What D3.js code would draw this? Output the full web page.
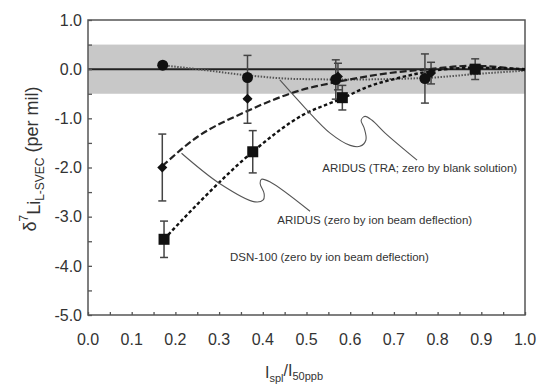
<!DOCTYPE html>
<html>
<head>
<meta charset="utf-8">
<script src="https://cdn.jsdelivr.net/npm/d3@7"></script>
<style>
  body { margin: 0; background: #fff; }
  svg text { font-family: "Liberation Sans", Arial, sans-serif; fill: #333; }
</style>
</head>
<body>
<div id="chart"></div>
<script>
// data ======================================================
let xTicks = [0, 0.1, 0.2, 0.3, 0.4, 0.5, 0.6, 0.7, 0.8, 0.9, 1.0];
let yTicks = [1, 0, -1, -2, -3, -4, -5];

// ARIDUS (TRA; zero by blank solution) - circles
let traX = [0.171, 0.365, 0.567, 0.771];
let traY = [0.08, -0.17, -0.21, -0.19];
let traErr = [0, 0.45, 0.4, 0.5];

// ARIDUS (zero by ion beam deflection) - diamonds
let ibdX = [0.170, 0.365, 0.572, 0.785];
let ibdY = [-2.0, -0.6, -0.15, -0.08];
let ibdErr = [0.68, 0.5, 0.27, 0.22];

// DSN-100 (zero by ion beam deflection) - squares
let dsnX = [0.174, 0.377, 0.582, 0.886];
let dsnY = [-3.46, -1.68, -0.58, 0.0];
let dsnErr = [0.37, 0.43, 0.25, 0.21];

// fitted trend curves
let traFitX = [0.17, 0.25, 0.36, 0.48, 0.6, 0.77, 0.9, 1.0];
let traFitY = [0.08, 0.0, -0.12, -0.2, -0.21, -0.18, -0.09, -0.03];
let ibdFitX = [0.17, 0.25, 0.36, 0.49, 0.57, 0.68, 0.78, 0.88, 1.0];
let ibdFitY = [-1.97, -1.38, -0.87, -0.42, -0.26, -0.09, 0.0, 0.07, -0.02];
let dsnFitX = [0.174, 0.25, 0.377, 0.49, 0.58, 0.64, 0.71, 0.8, 0.886, 1.0];
let dsnFitY = [-3.46, -2.75, -1.68, -0.94, -0.6, -0.36, -0.18, -0.02, 0.03, 0.0];

// leader lines for the labels (data units)
let lead1X = [0.439, 0.497, 0.554, 0.600, 0.622, 0.636, 0.632, 0.625, 0.634, 0.650, 0.680, 0.753];
let lead1Y = [-0.22, -0.79, -1.30, -1.55, -1.57, -1.44, -1.20, -1.04, -0.96, -1.04, -1.30, -1.85];
let lead2X = [0.214, 0.302, 0.382, 0.401, 0.403, 0.394, 0.397, 0.416, 0.508];
let lead2Y = [-1.71, -2.33, -2.70, -2.66, -2.53, -2.33, -2.24, -2.29, -2.89];

let labels = [
  { text: "ARIDUS (TRA; zero by blank solution)", x: 0.536, y: -2.1 },
  { text: "ARIDUS (zero by ion beam deflection)", x: 0.433, y: -3.15 },
  { text: "DSN-100 (zero by ion beam deflection)", x: 0.325, y: -3.9 }
];

// chart =====================================================
let width = 542, height = 389;
let margin = { top: 20, right: 17, bottom: 74, left: 88 };

let svg = d3.select("#chart").append("svg")
  .attr("width", width)
  .attr("height", height);

let x = d3.scaleLinear().domain([0, 1]).range([margin.left, width - margin.right]);
let y = d3.scaleLinear().domain([-5, 1]).range([height - margin.bottom, margin.top]);

// gray band
svg.append("rect")
  .attr("x", x(0))
  .attr("y", y(0.5))
  .attr("width", x(1) - x(0))
  .attr("height", y(-0.5) - y(0.5))
  .attr("fill", "#c8c8c8");

// zero line
svg.append("line")
  .attr("x1", x(0)).attr("x2", x(1))
  .attr("y1", y(0)).attr("y2", y(0))
  .attr("stroke", "#222")
  .attr("stroke-width", 2);

// axes (ticks inside)
let xAxis = d3.axisBottom(x)
  .tickValues(d3.range(0, 1.0001, 0.05))
  .tickSize(-3)
  .tickFormat("");
svg.append("g")
  .attr("transform", "translate(0," + y(-5) + ")")
  .call(xAxis)
  .call(g => g.select(".domain").remove())
  .call(g => g.selectAll("line").attr("stroke", "#555").attr("stroke-width", 1.3));

let yAxis = d3.axisLeft(y)
  .tickValues(d3.range(-5, 1.0001, 0.5))
  .tickSize(-4)
  .tickFormat("");
svg.append("g")
  .attr("transform", "translate(" + x(0) + ",0)")
  .call(yAxis)
  .call(g => g.select(".domain").remove())
  .call(g => g.selectAll("line").attr("stroke", "#555").attr("stroke-width", 1.3));

// tick labels
svg.append("g").selectAll("text")
  .data(xTicks)
  .enter()
  .append("text")
  .attr("x", d => x(d))
  .attr("y", y(-5) + 30)
  .attr("text-anchor", "middle")
  .attr("font-size", "16px")
  .text(d => d.toFixed(1));

svg.append("g").selectAll("text")
  .data(yTicks)
  .enter()
  .append("text")
  .attr("x", x(0) - 6)
  .attr("y", d => y(d))
  .attr("dy", "0.36em")
  .attr("text-anchor", "end")
  .attr("font-size", "16px")
  .text(d => d.toFixed(1));

// frame
svg.append("rect")
  .attr("x", x(0))
  .attr("y", y(1))
  .attr("width", x(1) - x(0))
  .attr("height", y(-5) - y(1))
  .attr("fill", "none")
  .attr("stroke", "#555")
  .attr("stroke-width", 1.5);

// axis titles
let yTitle = svg.append("text")
  .attr("transform", "translate(36," + (margin.top + 139) + ") rotate(-90)")
  .attr("text-anchor", "middle")
  .attr("font-size", "18px");
yTitle.append("tspan").text("δ");
yTitle.append("tspan").attr("font-size", "12px").attr("dy", "-0.7em").text("7");
yTitle.append("tspan").attr("dy", "0.7em").text("Li");
yTitle.append("tspan").attr("font-size", "12px").attr("dy", "0.35em").text("L-SVEC");
yTitle.append("tspan").attr("dy", "-0.35em").text(" (per mil)");

let xTitle = svg.append("text")
  .attr("x", 294)
  .attr("y", 378)
  .attr("text-anchor", "middle")
  .attr("font-size", "16px");
xTitle.append("tspan").text("I");
xTitle.append("tspan").attr("font-size", "11px").attr("dy", "0.35em").text("spl");
xTitle.append("tspan").attr("dy", "-0.35em").text("/I");
xTitle.append("tspan").attr("font-size", "11px").attr("dy", "0.35em").text("50ppb");

// fitted curves
let zip = (xs, ys) => xs.map((d, i) => [d, ys[i]]);
let fitLine = d3.line()
  .x(d => x(d[0]))
  .y(d => y(d[1]))
  .curve(d3.curveMonotoneX);

svg.append("path")
  .attr("d", fitLine(zip(traFitX, traFitY)))
  .attr("fill", "none")
  .attr("stroke", "#555")
  .attr("stroke-width", 2)
  .attr("stroke-dasharray", "1.5,1.5");

svg.append("path")
  .attr("d", fitLine(zip(ibdFitX, ibdFitY)))
  .attr("fill", "none")
  .attr("stroke", "#222")
  .attr("stroke-width", 2.2)
  .attr("stroke-dasharray", "7,3");

svg.append("path")
  .attr("d", fitLine(zip(dsnFitX, dsnFitY)))
  .attr("fill", "none")
  .attr("stroke", "#111")
  .attr("stroke-width", 2.4)
  .attr("stroke-dasharray", "3.5,2.5");

// leader lines
let leadLine = d3.line()
  .x(d => x(d[0]))
  .y(d => y(d[1]))
  .curve(d3.curveCatmullRom);

[zip(lead1X, lead1Y), zip(lead2X, lead2Y)].forEach(pts => {
  svg.append("path")
    .attr("d", leadLine(pts))
    .attr("fill", "none")
    .attr("stroke", "#555")
    .attr("stroke-width", 1.1);
});

// error bars
function errorBars(xs, ys, errs) {
  let g = svg.append("g")
    .attr("stroke", "#444")
    .attr("stroke-width", 1.5);
  xs.forEach((d, i) => {
    if (!errs[i]) return;
    g.append("line")
      .attr("x1", x(d)).attr("x2", x(d))
      .attr("y1", y(ys[i] + errs[i])).attr("y2", y(ys[i] - errs[i]));
    [ys[i] + errs[i], ys[i] - errs[i]].forEach(v => {
      g.append("line")
        .attr("x1", x(d) - 4).attr("x2", x(d) + 4)
        .attr("y1", y(v)).attr("y2", y(v));
    });
  });
}
errorBars(dsnX, dsnY, dsnErr);
errorBars(ibdX, ibdY, ibdErr);
errorBars(traX, traY, traErr);

// markers
svg.append("g").selectAll("rect")
  .data(zip(dsnX, dsnY))
  .enter()
  .append("rect")
  .attr("x", d => x(d[0]) - 5.5)
  .attr("y", d => y(d[1]) - 5.5)
  .attr("width", 11)
  .attr("height", 11)
  .attr("fill", "#111");

svg.append("g").selectAll("path")
  .data(zip(ibdX, ibdY))
  .enter()
  .append("path")
  .attr("d", d3.symbol(d3.symbolDiamond2, 64))
  .attr("transform", d => "translate(" + x(d[0]) + "," + y(d[1]) + ")")
  .attr("fill", "#111");

svg.append("g").selectAll("circle")
  .data(zip(traX, traY))
  .enter()
  .append("circle")
  .attr("cx", d => x(d[0]))
  .attr("cy", d => y(d[1]))
  .attr("r", 5.5)
  .attr("fill", "#111");

// series labels
svg.append("g").selectAll("text")
  .data(labels)
  .enter()
  .append("text")
  .attr("x", d => x(d.x))
  .attr("y", d => y(d.y))
  .attr("font-size", "11.5px")
  .text(d => d.text);
</script>
</body>
</html>
